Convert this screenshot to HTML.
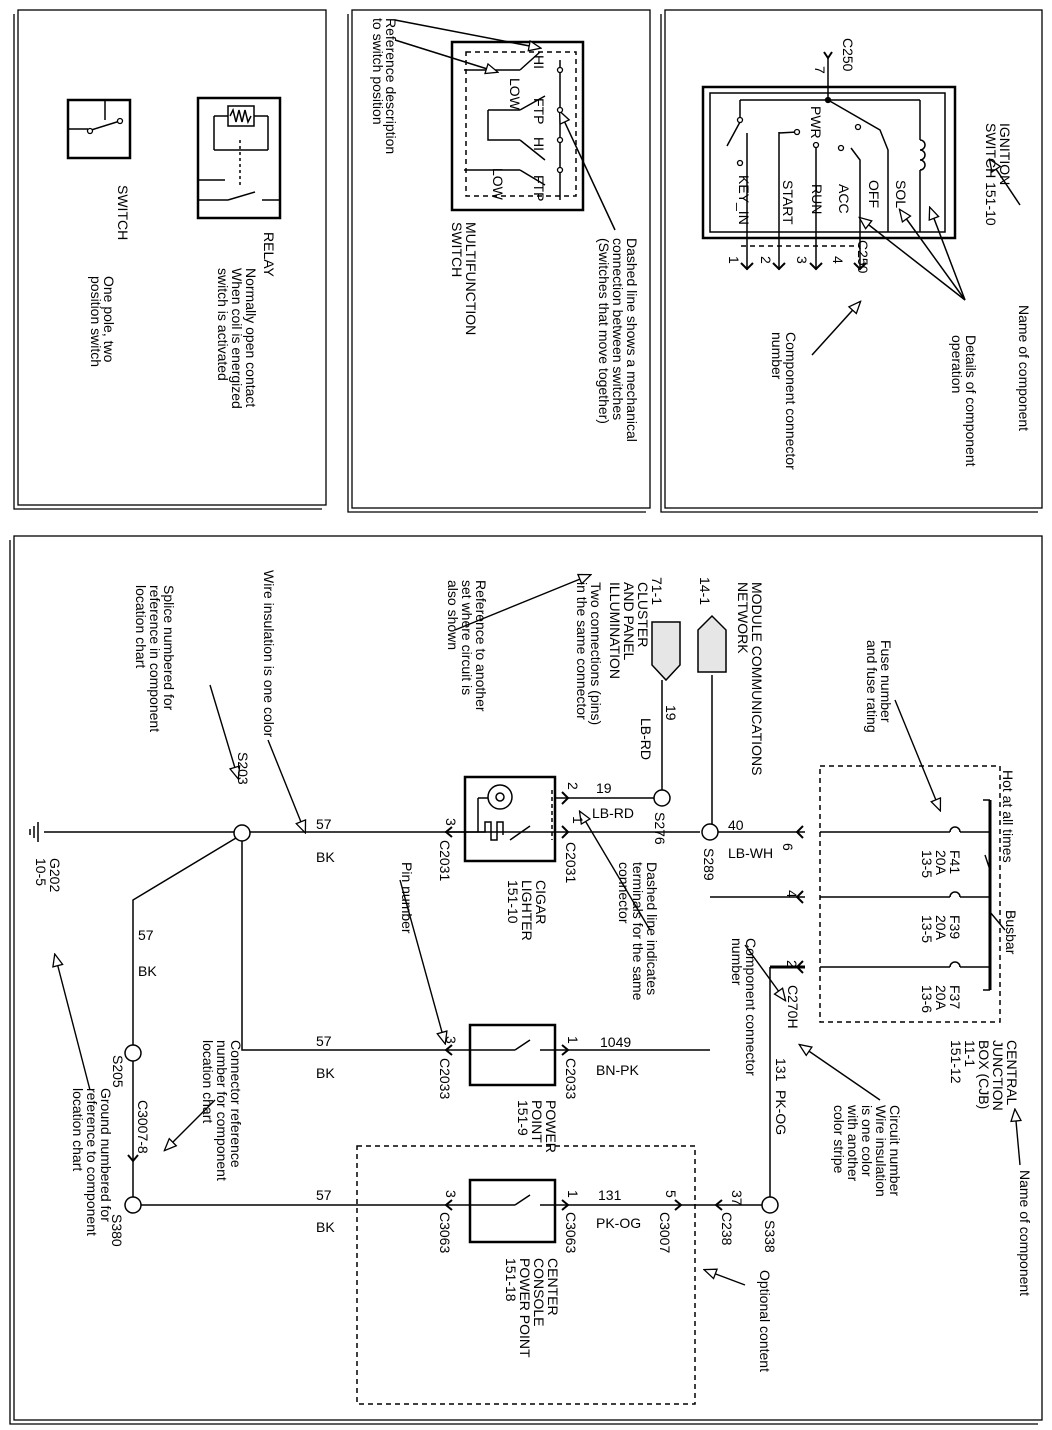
<!DOCTYPE html>
<html><head><style>
html,body{margin:0;padding:0;background:#fff;}
svg{display:block;}
text{font-family:"Liberation Sans",Arial,sans-serif;font-size:14px;fill:#000;}
</style></head><body>
<svg width="1052" height="1430" viewBox="0 0 1052 1430" xmlns="http://www.w3.org/2000/svg">
<defs>
<marker id="oa" markerWidth="14" markerHeight="12" refX="12" refY="6" orient="auto" markerUnits="userSpaceOnUse">
<path d="M1,1 L13,6 L1,11 Z" fill="#fff" stroke="#000" stroke-width="1.3"/></marker>
</defs>
<g fill="none" stroke="#000" stroke-width="1.3">
<rect x="18" y="10" width="308" height="495"/><path d="M14,14 V509 H322"/>
<rect x="352" y="10" width="298" height="498"/><path d="M348,14 V512 H646"/>
<rect x="665" y="10" width="377" height="498"/><path d="M661,14 V512 H1038"/>
<rect x="14" y="536" width="1028" height="884"/><path d="M10,540 V1424 H1038"/>
</g>
<g fill="none" stroke="#000" stroke-width="1.5">
<rect x="68" y="100" width="62" height="58" stroke-width="2.5"/>
<path d="M68,129 H88 M88,131 L120,121 M105,120 V100"/>
<rect x="198" y="98" width="82" height="120" stroke-width="2.5"/>
<rect x="228" y="106" width="26" height="20"/>
<path d="M230,116 l3,-6 l3,12 l3,-12 l3,12 l3,-12 l3,12 l3,-6"/>
<path d="M214,116 H228 M254,116 H268 M214,116 V150 M268,116 V150 M214,150 H268"/>
<path d="M240,140 V185" stroke-dasharray="3,3"/>
<path d="M198,180 H225 M228,200 L255,192 M262,200 H280 M228,200 H198"/>
<rect x="452" y="42" width="131" height="168" stroke-width="2.5"/>
<rect x="466" y="52" width="110" height="144" stroke-dasharray="5,4"/>
<path d="M464,70 H520 M520,70 L540,52 M520,110 L545,96 M488,110 H520 M488,110 V140 H520 M520,140 L545,160 M464,170 H520 M520,170 L545,185 M560,60 V200"/>
<path d="M395,40 L497,72" marker-end="url(#oa)"/>
<path d="M395,20 L540,48" marker-end="url(#oa)"/>
<path d="M615,230 L560,112" marker-end="url(#oa)"/>
<rect x="703" y="87" width="252" height="151" stroke-width="2.5"/>
<rect x="710" y="93" width="235" height="139"/>
<path d="M828,57 V100 M740,100 H920 M740,100 V120 M740,122 L727,146 M828,100 L880,130 L888,150 V232 M920,100 V140 M920,140 a5,5 0 0 1 0,10 a5,5 0 0 1 0,10 a5,5 0 0 1 0,10 M920,170 V232"/>
<path d="M747,133 V270 M779,132 V270 M816,145 V270 M851,148 L860,160 V270 M779,133 L797,132" />
<path d="M741,246 H860" stroke-dasharray="5,4"/>
<path d="M1020,205 L990,160" marker-end="url(#oa)"/>
<path d="M965,300 L930,208" marker-end="url(#oa)"/>
<path d="M965,300 L900,210" marker-end="url(#oa)"/>
<path d="M965,300 L860,218" marker-end="url(#oa)"/>
<path d="M812,355 L860,302" marker-end="url(#oa)"/>
</g>
<g fill="#fff" stroke="#000" stroke-width="1.3">
<circle cx="740" cy="120" r="2.5"/><circle cx="740" cy="163" r="2.5"/><circle cx="797" cy="132" r="2.5"/><circle cx="816" cy="145" r="2.5"/><circle cx="841" cy="148" r="2.5"/><circle cx="858" cy="127" r="2.5"/>
<circle cx="828" cy="100" r="2.5" fill="#000"/>
<circle cx="560" cy="70" r="2.5"/><circle cx="560" cy="110" r="2.5"/><circle cx="560" cy="140" r="2.5"/><circle cx="560" cy="170" r="2.5"/>
<circle cx="90" cy="131" r="2.5"/><circle cx="120" cy="121" r="2.5"/>
</g>
<g fill="none" stroke="#000" stroke-width="2">
<path d="M824,52 l4,6 l4,-6"/>
<path d="M741,263 l6,6 l6,-6 M773,263 l6,6 l6,-6 M810,263 l6,6 l6,-6 M854,263 l6,6 l6,-6"/>
</g>

<g fill="none" stroke="#000" stroke-width="1.5">
<path d="M44,832 H234 M250,832 H700 M718,832 H805"/>
<path d="M38,822 V842 M34,826 V838 M30,829 V835"/>
<path d="M242,840 V1050 H465 M555,1050 H710"/>
<path d="M236,838 L133,900 V1045 M133,1061 V1197 M141,1205 H465 M555,1205 H762"/>
<path d="M555,798 H654 M662,790 V680 M712,675 V824 M710,897 H805"/>
<path d="M770,967 V1197"/>
<path d="M770,967 H805" stroke-width="3"/>
<path d="M820,832 H950 M820,897 H950 M820,967 H950"/>
<path d="M990,800 V990" stroke-width="3"/>
<path d="M983,800 H990 M983,990 H990"/>
<path d="M950,832 a5,5 0 0 1 10,0 M950,897 a5,5 0 0 1 10,0 M950,967 a5,5 0 0 1 10,0 M960,832 H990 M960,897 H990 M960,967 H990"/>
<rect x="820" y="766" width="180" height="256" stroke-dasharray="5,4"/>
<rect x="357" y="1146" width="338" height="258" stroke-dasharray="5,4"/>
<path d="M552,790 V840" stroke-dasharray="4,3"/>
<rect x="465" y="777" width="90" height="84" stroke-width="2.5"/>
<circle cx="500" cy="797" r="12"/><circle cx="500" cy="797" r="4"/>
<path d="M478,798 H488 M478,798 V832 M478,832 H485 V822 H491 V840 H497 V822 H503 V835 M510,840 L530,826 M445,832 H478"/>
<rect x="470" y="1025" width="85" height="60" stroke-width="2.5"/>
<path d="M465,1050 H515 M515,1050 L530,1040 M540,1050 H555"/>
<rect x="470" y="1180" width="85" height="62" stroke-width="2.5"/>
<path d="M465,1205 H515 M515,1205 L530,1195 M540,1205 H555"/>
</g>
<g fill="none" stroke="#000" stroke-width="2">
<path d="M452,827 l-6,5 l6,5 M562,792 l6,6 l-6,6 M562,826 l6,6 l-6,6 M803,826 l-6,6 l6,6 M803,891 l-6,6 l6,6 M803,961 l-6,6 l6,6"/>
<path d="M452,1045 l-6,5 l6,5 M562,1045 l6,5 l-6,5 M452,1200 l-6,5 l6,5 M562,1200 l6,5 l-6,5 M675,1200 l6,5 l-6,5 M722,1200 l-6,5 l6,5 M128,1155 l5,6 l5,-6"/>
</g>
<g fill="#fff" stroke="#000" stroke-width="1.5">
<circle cx="242" cy="833" r="8"/><circle cx="662" cy="798" r="8"/><circle cx="710" cy="832" r="8"/>
<circle cx="133" cy="1053" r="8"/><circle cx="133" cy="1205" r="8"/><circle cx="770" cy="1205" r="8"/>
<path d="M652,622 H680 V665 L666,680 L652,665 Z" fill="#e6e6e6"/>
<path d="M698,630 L712,616 L726,630 V672 H698 Z" fill="#e6e6e6"/>
</g>
<g fill="none" stroke="#000" stroke-width="1.4">
<path d="M210,685 L238,778" marker-end="url(#oa)"/>
<path d="M268,740 L305,832" marker-end="url(#oa)"/>
<path d="M455,630 L590,575" marker-end="url(#oa)"/>
<path d="M650,930 L580,812" marker-end="url(#oa)"/>
<path d="M400,880 L445,1043" marker-end="url(#oa)"/>
<path d="M895,700 L940,810" marker-end="url(#oa)"/>
<path d="M1005,930 L990,912"/>
<path d="M985,855 L990,870"/>
<path d="M745,945 L785,1000" marker-end="url(#oa)"/>
<path d="M1020,1165 L1015,1110" marker-end="url(#oa)"/>
<path d="M880,1100 L800,1045" marker-end="url(#oa)"/>
<path d="M745,1285 L705,1270" marker-end="url(#oa)"/>
<path d="M215,1100 L165,1150" marker-end="url(#oa)"/>
<path d="M90,1090 L55,955" marker-end="url(#oa)"/>
</g>

<g>
<text x="316" y="829">57</text><text x="316" y="862">BK</text>
<text x="316" y="1046">57</text><text x="316" y="1078">BK</text>
<text x="316" y="1200">57</text><text x="316" y="1232">BK</text>
<text x="138" y="940">57</text><text x="138" y="976">BK</text>
<text x="596" y="793">19</text><text x="592" y="818">LB-RD</text>
<text x="728" y="830">40</text><text x="728" y="858">LB-WH</text>
<text x="600" y="1047">1049</text><text x="596" y="1075">BN-PK</text>
<text x="598" y="1200">131</text><text x="596" y="1228">PK-OG</text>
</g>
<g>
<text transform="translate(118,185) rotate(90)">SWITCH</text>
<text transform="translate(104,276) rotate(90)">One pole, two</text>
<text transform="translate(91,276) rotate(90)">position switch</text>
<text transform="translate(264,232) rotate(90)">RELAY</text>
<text transform="translate(246,268) rotate(90)">Normally open contact</text>
<text transform="translate(232,268) rotate(90)">When coil is energized</text>
<text transform="translate(218,268) rotate(90)">switch is activated</text>
<text transform="translate(386,18) rotate(90)">Reference description</text>
<text transform="translate(373,18) rotate(90)">to switch position</text>
<text transform="translate(534,55) rotate(90)">HI</text>
<text transform="translate(510,78) rotate(90)">LOW</text>
<text transform="translate(534,98) rotate(90)">FTP</text>
<text transform="translate(534,137) rotate(90)">HI</text>
<text transform="translate(493,168) rotate(90)">LOW</text>
<text transform="translate(534,175) rotate(90)">FTP</text>
<text transform="translate(466,222) rotate(90)">MULTIFUNCTION</text>
<text transform="translate(452,222) rotate(90)">SWITCH</text>
<text transform="translate(627,238) rotate(90)">Dashed line shows a mechanical</text>
<text transform="translate(613,238) rotate(90)">connection between switches</text>
<text transform="translate(599,238) rotate(90)">(Switches that move together)</text>
<text transform="translate(843,38) rotate(90)">C250</text>
<text transform="translate(815,66) rotate(90)">7</text>
<text transform="translate(811,106) rotate(90)">PWR</text>
<text transform="translate(896,180) rotate(90)">SOL</text>
<text transform="translate(739,175) rotate(90)">KEY_IN</text>
<text transform="translate(783,180) rotate(90)">START</text>
<text transform="translate(812,184) rotate(90)">RUN</text>
<text transform="translate(839,184) rotate(90)">ACC</text>
<text transform="translate(869,180) rotate(90)">OFF</text>
<text transform="translate(1000,123) rotate(90)">IGNITION</text>
<text transform="translate(986,123) rotate(90)">SWITCH   151-10</text>
<text transform="translate(729,256) rotate(90)">1</text>
<text transform="translate(761,256) rotate(90)">2</text>
<text transform="translate(797,256) rotate(90)">3</text>
<text transform="translate(833,256) rotate(90)">4</text>
<text transform="translate(858,240) rotate(90)">C250</text>
<text transform="translate(1019,305) rotate(90)">Name of component</text>
<text transform="translate(966,335) rotate(90)">Details of component</text>
<text transform="translate(952,335) rotate(90)">operation</text>
<text transform="translate(786,332) rotate(90)">Component connector</text>
<text transform="translate(772,332) rotate(90)">number</text>
<text transform="translate(164,585) rotate(90)">Splice numbered for</text>
<text transform="translate(150,585) rotate(90)">reference in component</text>
<text transform="translate(136,585) rotate(90)">location chart</text>
<text transform="translate(264,570) rotate(90)">Wire insulation is one color</text>
<text transform="translate(476,580) rotate(90)">Reference to another</text>
<text transform="translate(462,580) rotate(90)">set where circuit is</text>
<text transform="translate(448,580) rotate(90)">also shown</text>
<text transform="translate(591,582) rotate(90)">Two connections (pins)</text>
<text transform="translate(577,582) rotate(90)">in the same connector</text>
<text transform="translate(638,582) rotate(90)">CLUSTER</text>
<text transform="translate(624,582) rotate(90)">AND PANEL</text>
<text transform="translate(610,582) rotate(90)">ILLUMINATION</text>
<text transform="translate(652,577) rotate(90)">71-1</text>
<text transform="translate(752,582) rotate(90)">MODULE COMMUNICATIONS</text>
<text transform="translate(738,582) rotate(90)">NETWORK</text>
<text transform="translate(700,577) rotate(90)">14-1</text>
<text transform="translate(666,705) rotate(90)">19</text>
<text transform="translate(641,718) rotate(90)">LB-RD</text>
<text transform="translate(881,640) rotate(90)">Fuse number</text>
<text transform="translate(867,640) rotate(90)">and fuse rating</text>
<text transform="translate(1003,770) rotate(90)">Hot at all times</text>
<text transform="translate(1006,910) rotate(90)">Busbar</text>
<text transform="translate(1007,1040) rotate(90)">CENTRAL</text>
<text transform="translate(993,1040) rotate(90)">JUNCTION</text>
<text transform="translate(979,1040) rotate(90)">BOX (CJB)</text>
<text transform="translate(965,1040) rotate(90)">11-1</text>
<text transform="translate(951,1040) rotate(90)">151-12</text>
<text transform="translate(1020,1170) rotate(90)">Name of component</text>
<text transform="translate(890,1105) rotate(90)">Circuit number</text>
<text transform="translate(876,1105) rotate(90)">Wire insulation</text>
<text transform="translate(862,1105) rotate(90)">is one color</text>
<text transform="translate(848,1105) rotate(90)">with another</text>
<text transform="translate(834,1105) rotate(90)">color stripe</text>
<text transform="translate(760,1270) rotate(90)">Optional content</text>
<text transform="translate(746,938) rotate(90)">Component connector</text>
<text transform="translate(732,938) rotate(90)">number</text>
<text transform="translate(402,862) rotate(90)">Pin number</text>
<text transform="translate(647,862) rotate(90)">Dashed line indicates</text>
<text transform="translate(633,862) rotate(90)">terminals for the same</text>
<text transform="translate(619,862) rotate(90)">connector</text>
<text transform="translate(231,1040) rotate(90)">Connector reference</text>
<text transform="translate(217,1040) rotate(90)">number for component</text>
<text transform="translate(203,1040) rotate(90)">location chart</text>
<text transform="translate(101,1088) rotate(90)">Ground numbered for</text>
<text transform="translate(87,1088) rotate(90)">reference to component</text>
<text transform="translate(73,1088) rotate(90)">location chart</text>
<text transform="translate(50,858) rotate(90)">G202</text>
<text transform="translate(36,858) rotate(90)">10-5</text>
<text transform="translate(238,752) rotate(90)">S203</text>
<text transform="translate(113,1055) rotate(90)">S205</text>
<text transform="translate(138,1100) rotate(90)">C3007-8</text>
<text transform="translate(112,1214) rotate(90)">S380</text>
<text transform="translate(446,818) rotate(90)">3</text>
<text transform="translate(440,840) rotate(90)">C2031</text>
<text transform="translate(566,842) rotate(90)">C2031</text>
<text transform="translate(568,782) rotate(90)">2</text>
<text transform="translate(573,816) rotate(90)">1</text>
<text transform="translate(536,880) rotate(90)">CIGAR</text>
<text transform="translate(522,880) rotate(90)">LIGHTER</text>
<text transform="translate(508,880) rotate(90)">151-10</text>
<text transform="translate(655,812) rotate(90)">S276</text>
<text transform="translate(704,848) rotate(90)">S289</text>
<text transform="translate(783,843) rotate(90)">6</text>
<text transform="translate(787,890) rotate(90)">4</text>
<text transform="translate(787,960) rotate(90)">2</text>
<text transform="translate(950,850) rotate(90)">F41</text>
<text transform="translate(936,850) rotate(90)">20A</text>
<text transform="translate(922,850) rotate(90)">13-5</text>
<text transform="translate(950,915) rotate(90)">F39</text>
<text transform="translate(936,915) rotate(90)">20A</text>
<text transform="translate(922,915) rotate(90)">13-5</text>
<text transform="translate(950,985) rotate(90)">F37</text>
<text transform="translate(936,985) rotate(90)">20A</text>
<text transform="translate(922,985) rotate(90)">13-6</text>
<text transform="translate(788,985) rotate(90)">C270H</text>
<text transform="translate(776,1058) rotate(90)">131</text>
<text transform="translate(776,1090) rotate(90)">PK-OG</text>
<text transform="translate(446,1036) rotate(90)">3</text>
<text transform="translate(440,1058) rotate(90)">C2033</text>
<text transform="translate(568,1036) rotate(90)">1</text>
<text transform="translate(566,1058) rotate(90)">C2033</text>
<text transform="translate(546,1100) rotate(90)">POWER</text>
<text transform="translate(532,1100) rotate(90)">POINT</text>
<text transform="translate(518,1100) rotate(90)">151-9</text>
<text transform="translate(765,1220) rotate(90)">S338</text>
<text transform="translate(732,1190) rotate(90)">37</text>
<text transform="translate(722,1212) rotate(90)">C238</text>
<text transform="translate(666,1190) rotate(90)">5</text>
<text transform="translate(660,1212) rotate(90)">C3007</text>
<text transform="translate(568,1190) rotate(90)">1</text>
<text transform="translate(566,1212) rotate(90)">C3063</text>
<text transform="translate(446,1190) rotate(90)">3</text>
<text transform="translate(440,1212) rotate(90)">C3063</text>
<text transform="translate(548,1258) rotate(90)">CENTER</text>
<text transform="translate(534,1258) rotate(90)">CONSOLE</text>
<text transform="translate(520,1258) rotate(90)">POWER POINT</text>
<text transform="translate(506,1258) rotate(90)">151-18</text>
</g>
</svg>
</body></html>
